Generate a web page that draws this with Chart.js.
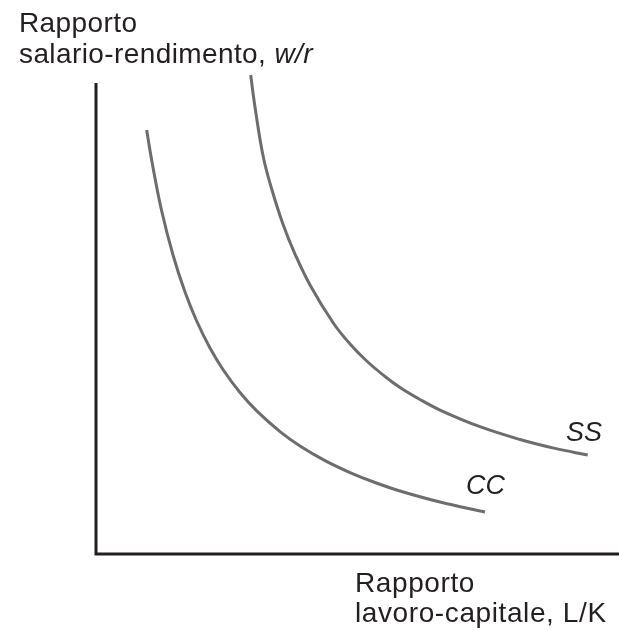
<!DOCTYPE html>
<html>
<head>
<meta charset="utf-8">
<script src="https://cdn.jsdelivr.net/npm/chart.js@4"></script>
<style>
  html, body { margin: 0; padding: 0; background: #fff; }
  #wrap { width: 619px; height: 630px; position: relative; }
</style>
</head>
<body>
<div id="wrap"><canvas id="chart"></canvas></div>
<script>
// ── DATA ── (units: arbitrary, axes run 0..10)
const ccX = [0.969, 1.071, 1.256, 1.478, 1.702, 1.925, 2.180, 2.434, 2.753, 3.073, 3.518, 3.901, 4.379, 4.857, 5.335, 5.813, 6.577, 7.438];
const ccY = [9.002, 8.323, 7.282, 6.327, 5.563, 4.947, 4.374, 3.907, 3.429, 3.038, 2.599, 2.295, 1.983, 1.730, 1.518, 1.338, 1.104, 0.892];
const ssX = [2.958, 3.040, 3.199, 3.365, 3.581, 3.805, 4.092, 4.537, 4.857, 5.176, 5.526, 5.813, 6.195, 6.577, 7.342, 8.107, 8.776, 9.402];
const ssY = [10.170, 9.490, 8.429, 7.728, 6.985, 6.369, 5.711, 4.904, 4.459, 4.098, 3.769, 3.535, 3.280, 3.057, 2.703, 2.431, 2.242, 2.102];
const curveLabels = ['CC', 'SS'];
const yTitle = ['Rapporto', 'salario-rendimento, '];
const yTitleItalic = 'w/r';
const xTitle = ['Rapporto', 'lavoro-capitale, L/K'];

const toPts = (xs, ys) => xs.map((x, i) => ({ x, y: ys[i] }));

const FONT = "'Liberation Sans', Arial, Helvetica, sans-serif";
const INK = '#231f20';
const CURVE = '#6d6d6d';

// axes + labels drawn by hand (no ticks in the original)
const decor = {
    id: 'decor',
    afterDraw(chart) {
        const { ctx, chartArea: a } = chart;
        ctx.save();
        ctx.strokeStyle = INK;
        ctx.lineWidth = 3;
        ctx.beginPath();
        ctx.moveTo(a.left, a.top);
        ctx.lineTo(a.left, a.bottom + 1.5);
        ctx.moveTo(a.left - 1.5, a.bottom);
        ctx.lineTo(619, a.bottom);
        ctx.stroke();

        ctx.fillStyle = INK;
        ctx.textBaseline = 'alphabetic';
        ctx.letterSpacing = '0.4px';
        ctx.font = `28px ${FONT}`;
        ctx.fillText(yTitle[0], 19, 32);
        ctx.fillText(yTitle[1], 19, 63);
        const w = ctx.measureText(yTitle[1]).width;
        ctx.font = `italic 28px ${FONT}`;
        ctx.fillText(yTitleItalic, 19 + w, 63);

        ctx.letterSpacing = '0.6px';
        ctx.font = `28px ${FONT}`;
        ctx.fillText(xTitle[0], 355, 592);
        ctx.fillText(xTitle[1], 355, 622);

        ctx.letterSpacing = '0px';
        ctx.font = `italic 27px ${FONT}`;
        ctx.fillText(curveLabels[1], 566, 441);
        ctx.fillText(curveLabels[0], 466, 494);
        ctx.restore();
    }
};

new Chart(document.getElementById('chart'), {
    type: 'scatter',
    data: {
        datasets: [
            { label: curveLabels[0], data: toPts(ccX, ccY) },
            { label: curveLabels[1], data: toPts(ssX, ssY) },
        ].map(d => ({
            ...d,
            showLine: true,
            borderColor: CURVE,
            borderWidth: 3,
            pointRadius: 0,
            tension: 0.4,
            clip: false,
        }))
    },
    options: {
        responsive: true, maintainAspectRatio: false, animation: false,
        layout: { padding: { left: 96, top: 83, right: 0, bottom: 76 } },
        plugins: { legend: { display: false }, tooltip: { enabled: false } },
        scales: {
            x: { type: 'linear', min: 0, max: 10, display: false },
            y: { type: 'linear', min: 0, max: 10, display: false }
        }
    },
    plugins: [decor]
});
</script>
</body>
</html>
